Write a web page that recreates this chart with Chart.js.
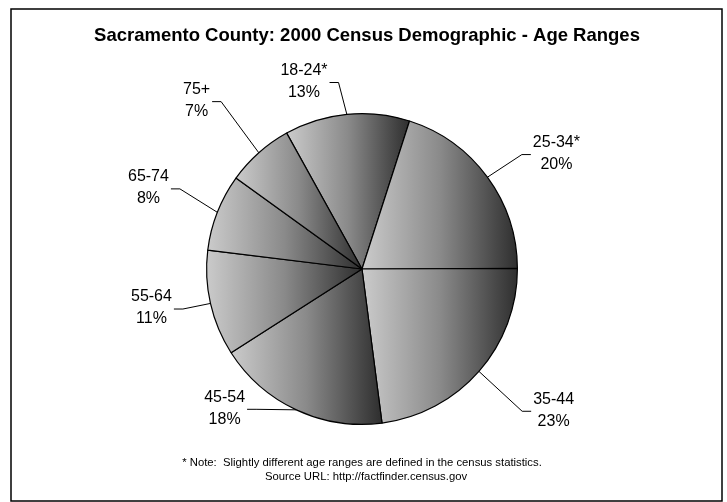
<!DOCTYPE html>
<html lang="en">
<head>
   <meta charset="UTF-8">
   <title>Sacramento County: 2000 Census Demographic - Age Ranges</title>
   <script src="https://cdn.jsdelivr.net/npm/chart.js@4.4.1/dist/chart.umd.min.js"></script>
   <style>
      html, body { margin: 0; padding: 0; background: #fff; }
      .chart-container { width: 727px; height: 502px; position: relative; }
   </style>
</head>
<body>
   <div class="chart-container">
      <canvas id="myChart"></canvas>
   </div>

   <script>
      const titleText = 'Sacramento County: 2000 Census Demographic - Age Ranges';
      const noteLines = [
         '* Note:  Slightly different age ranges are defined in the census statistics.',
         'Source URL: http://factfinder.census.gov'
      ];
      const ageRanges = ['18-24*', '25-34*', '35-44', '45-54', '55-64', '65-74', '75+'];
      const percentages = [13, 20, 23, 18, 11, 8, 7];

      // label placement: shift from slice middle (deg) and distance (x radius)
      const labelShift = [-11.6, 5.5, -4.8, 19.6, 2.3, -0.6, -2.9];
      const labelDist = [1.263, 1.455, 1.532, 1.259, 1.378, 1.47, 1.519];

      const rotationDeg = -29;
      const labelFont = '16px "Liberation Sans", Arial, sans-serif';

      // horizontal light-to-dark gradient across each slice's bounding box
      function sliceGradient(context) {
         const chart = context.chart;
         const area = chart.chartArea;
         if (!area) return '#999';
         const i = context.dataIndex;
         const total = percentages.reduce((s, v) => s + v, 0);
         const cx = (area.left + area.right) / 2;
         const r = Math.min(area.width, area.height) / 2;
         let start = (rotationDeg - 90) * Math.PI / 180;
         for (let k = 0; k < i; k++) start += percentages[k] / total * Math.PI * 2;
         const end = start + percentages[i] / total * Math.PI * 2;
         let xs = [cx, cx + r * Math.cos(start), cx + r * Math.cos(end)];
         for (let a = -Math.PI * 2; a <= Math.PI * 4; a += Math.PI) {
            if (a > start && a < end) xs.push(cx + r * Math.cos(a));
         }
         const minX = Math.min(...xs);
         const maxX = Math.max(...xs);
         const g = chart.ctx.createLinearGradient(minX, 0, maxX, 0);
         g.addColorStop(0, '#cbcbcb');
         g.addColorStop(0.5, '#8a8a8a');
         g.addColorStop(1, '#2e2e2e');
         return g;
      }

      const decorPlugin = {
         id: 'decor',
         beforeDraw(chart) {
            const ctx = chart.ctx;
            ctx.save();
            ctx.fillStyle = '#fff';
            ctx.fillRect(0, 0, chart.width, chart.height);
            ctx.restore();
         },
         afterDraw(chart) {
            const ctx = chart.ctx;
            ctx.save();
            ctx.strokeStyle = '#000';
            ctx.lineWidth = 1.5;
            ctx.strokeRect(11, 9, 711, 492);

            ctx.fillStyle = '#000';
            ctx.textAlign = 'center';
            ctx.textBaseline = 'middle';
            ctx.font = 'bold 18.5px "Liberation Sans", Arial, sans-serif';
            ctx.fillText(titleText, 367, 36);

            ctx.font = '11.3px "Liberation Sans", Arial, sans-serif';
            ctx.fillText(noteLines[0], 362, 463);
            ctx.fillText(noteLines[1], 366, 477);
            ctx.restore();
         },
         afterDatasetsDraw(chart) {
            const ctx = chart.ctx;
            const meta = chart.getDatasetMeta(0);
            ctx.save();
            ctx.font = labelFont;
            ctx.fillStyle = '#000';
            ctx.strokeStyle = '#000';
            ctx.lineWidth = 1;
            ctx.textAlign = 'center';
            ctx.textBaseline = 'middle';
            meta.data.forEach((arc, i) => {
               const p = arc.getProps(['x', 'y', 'startAngle', 'endAngle', 'outerRadius'], true);
               const mid = (p.startAngle + p.endAngle) / 2;
               const ex = p.x + p.outerRadius * Math.cos(mid);
               const ey = p.y + p.outerRadius * Math.sin(mid);
               const la = mid + labelShift[i] * Math.PI / 180;
               const lx = p.x + p.outerRadius * labelDist[i] * Math.cos(la);
               const ly = p.y + p.outerRadius * labelDist[i] * Math.sin(la);
               const lines = [ageRanges[i], percentages[i] + '%'];
               const w = Math.max(...lines.map(t => ctx.measureText(t).width));
               const side = ex < lx ? -1 : 1;
               const edgeX = lx + side * w / 2;
               ctx.beginPath();
               ctx.moveTo(ex, ey);
               ctx.lineTo(edgeX + side * 11, ly + 1);
               ctx.lineTo(edgeX + side * 2, ly + 1);
               ctx.stroke();
               ctx.fillText(lines[0], lx, ly - 11);
               ctx.fillText(lines[1], lx, ly + 11);
            });
            ctx.restore();
         }
      };

      const config = {
         type: 'pie',
         data: {
            labels: ageRanges,
            datasets: [{
               data: percentages,
               backgroundColor: sliceGradient,
               borderColor: '#000',
               borderWidth: 1.2,
               hoverOffset: 0,
               offset: 0
            }]
         },
         options: {
            responsive: true,
            maintainAspectRatio: false,
            animation: false,
            rotation: rotationDeg,
            layout: {
               padding: { top: 113, bottom: 77, left: 206, right: 209 }
            },
            plugins: {
               legend: { display: false },
               tooltip: { enabled: false }
            },
            events: []
         },
         plugins: [decorPlugin]
      };

      const ctx = document.getElementById('myChart').getContext('2d');
      const chart = new Chart(ctx, config);
   </script>
</body>
</html>
